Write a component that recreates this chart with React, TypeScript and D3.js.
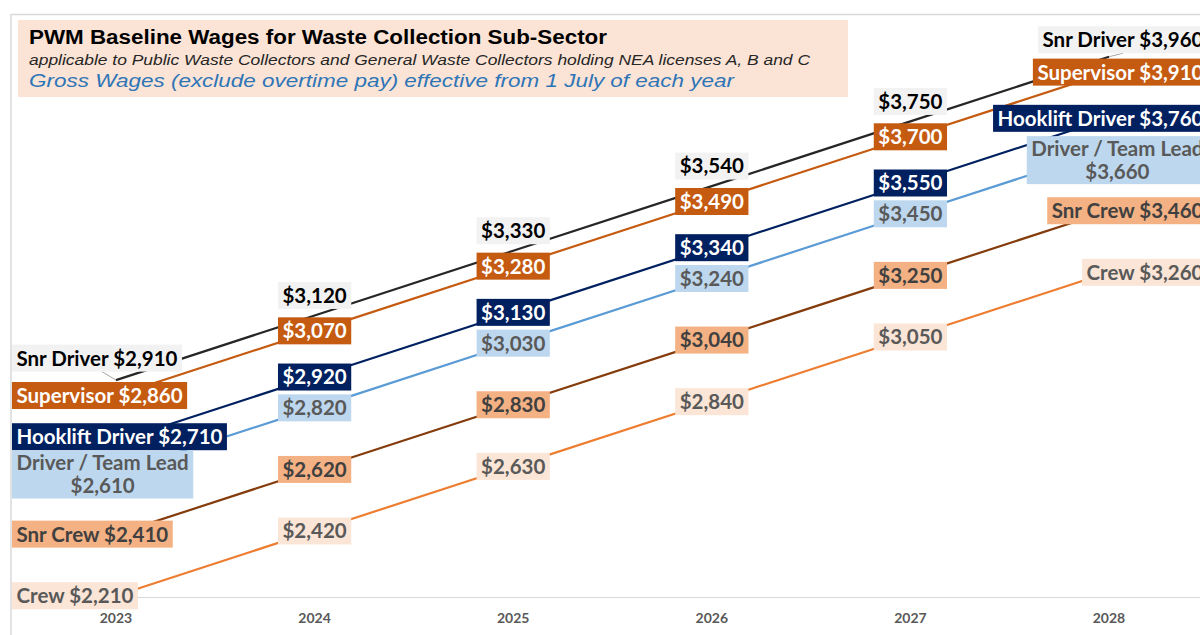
import React, { useEffect, useRef } from "react";
import * as d3 from "d3";

// ---- Data ----
const years = ["2023", "2024", "2025", "2026", "2027", "2028"];
const seriesNames = ["Snr Driver", "Supervisor", "Hooklift Driver", "Driver / Team Lead", "Snr Crew", "Crew"];
const snrDriver = [2910, 3120, 3330, 3540, 3750, 3960];
const supervisor = [2860, 3070, 3280, 3490, 3700, 3910];
const hookliftDriver = [2710, 2920, 3130, 3340, 3550, 3760];
const driverTeamLead = [2610, 2820, 3030, 3240, 3450, 3660];
const snrCrew = [2410, 2620, 2830, 3040, 3250, 3460];
const crew = [2210, 2420, 2630, 2840, 3050, 3260];
const seriesValues = [snrDriver, supervisor, hookliftDriver, driverTeamLead, snrCrew, crew];
const yDomain = [2200, 4000];

const titleLine1 = "PWM Baseline Wages for Waste Collection Sub-Sector";
const titleLine2 = "applicable to Public Waste Collectors and General Waste Collectors holding NEA licenses A, B and C";
const titleLine3 = "Gross Wages (exclude overtime pay) effective from 1 July of each year";

// ---- Styles ----
const seriesStyles = [
  { line: "#262626", fill: "#f2f2f2", text: "#000000", dy: -20, firstDy: -2, lastDy: 3, wrap: false, leader: true },
  { line: "#c55a11", fill: "#c55a11", text: "#ffffff", dy: 0, firstDy: 0, lastDy: 0, wrap: false, leader: false },
  { line: "#002060", fill: "#002060", text: "#ffffff", dy: 0, firstDy: -5, lastDy: 0, wrap: false, leader: false },
  { line: "#5b9bd5", fill: "#bdd7ee", text: "#595959", dy: 0, firstDy: 2, lastDy: 11, wrap: true, leader: false },
  { line: "#843c0c", fill: "#f4b183", text: "#404040", dy: 0, firstDy: 0, lastDy: 0, wrap: false, leader: false },
  { line: "#ed7d31", fill: "#fbe5d6", text: "#595959", dy: 0, firstDy: 0, lastDy: 0, wrap: false, leader: false },
];

const W = 1200;
const H = 635;
const LABEL_FONT = "Lato, 'Open Sans', sans-serif";
const LABEL_SIZE = 20.5;

export default function App() {
  const ref = useRef<SVGSVGElement>(null);

  useEffect(() => {
    const svg = d3.select(ref.current);
    svg.selectAll("*").remove();

    const x = d3.scalePoint<string>().domain(years).range([116, 1109]);
    const y = d3.scaleLinear().domain(yDomain).range([598.8, 44.4]);
    const fmt = d3.format("$,");

    // chart border
    svg.append("line").attr("x1", 11).attr("x2", W).attr("y1", 14.5).attr("y2", 14.5)
      .attr("stroke", "#d9d9d9").attr("stroke-width", 1.5);
    svg.append("line").attr("x1", 11).attr("x2", 11).attr("y1", 14).attr("y2", H)
      .attr("stroke", "#d9d9d9").attr("stroke-width", 1.5);

    // title box
    svg.append("rect").attr("x", 18).attr("y", 20).attr("width", 830).attr("height", 77).attr("fill", "#fbe4d6");
    svg.append("text").attr("x", 29).attr("y", 44).text(titleLine1)
      .attr("font-family", "'Liberation Sans', Arial, sans-serif").attr("font-weight", 700)
      .attr("font-size", 19.5).attr("fill", "#000")
      .attr("textLength", 578).attr("lengthAdjust", "spacingAndGlyphs");
    svg.append("text").attr("x", 29).attr("y", 64.5).text(titleLine2)
      .attr("font-family", "'Liberation Sans', Arial, sans-serif").attr("font-style", "italic")
      .attr("font-size", 14).attr("fill", "#262626")
      .attr("textLength", 781).attr("lengthAdjust", "spacingAndGlyphs");
    svg.append("text").attr("x", 29).attr("y", 86.5).text(titleLine3)
      .attr("font-family", "'Liberation Sans', Arial, sans-serif").attr("font-style", "italic")
      .attr("font-size", 18.5).attr("fill", "#2e75b6")
      .attr("textLength", 705).attr("lengthAdjust", "spacingAndGlyphs");

    // x axis
    svg.append("line").attr("x1", 11).attr("x2", W).attr("y1", 597.5).attr("y2", 597.5)
      .attr("stroke", "#d9d9d9").attr("stroke-width", 1);
    svg.append("g").selectAll("text").data(years).join("text")
      .attr("x", (d) => x(d) as number).attr("y", 623)
      .attr("text-anchor", "middle")
      .attr("font-family", LABEL_FONT).attr("font-weight", 700).attr("font-size", 14)
      .attr("fill", "#595959").text((d) => d);

    // lines
    const lineGen = d3.line<number>()
      .x((_, i) => x(years[i]) as number)
      .y((d) => y(d));
    const linesG = svg.append("g");
    seriesValues.forEach((vals, si) => {
      linesG.append("path").attr("d", lineGen(vals) as string)
        .attr("fill", "none").attr("stroke", seriesStyles[si].line).attr("stroke-width", 2.2);
    });

    // labels
    const labelsG = svg.append("g");
    const last = years.length - 1;
    seriesValues.forEach((vals, si) => {
      const st = seriesStyles[si];
      vals.forEach((v, j) => {
        const px = x(years[j]) as number;
        const py = y(v);
        const isEnd = j === 0 || j === last;
        let lines: string[];
        if (isEnd) {
          lines = st.wrap ? [seriesNames[si], fmt(v)] : [`${seriesNames[si]} ${fmt(v)}`];
        } else {
          lines = [fmt(v)];
        }
        const cy = py + st.dy + (j === last ? st.lastDy : 0) + (j === 0 ? st.firstDy : 0);
        const g = labelsG.append("g");
        const rect = g.append("rect").attr("fill", st.fill);
        const texts = lines.map((ln) =>
          g.append("text").text(ln)
            .attr("font-family", LABEL_FONT).attr("font-weight", 700)
            .attr("font-size", LABEL_SIZE).attr("fill", st.text)
            .attr("text-anchor", "middle")
        );
        const widths = texts.map((t) => (t.node() as SVGTextElement).getComputedTextLength());
        const bw = Math.max(...widths) + 9;
        const lineH = 23;
        const bh = lines.length === 1 ? 27 : 48;
        let bx: number;
        if (j === 0) bx = 12;
        else if (j === last) bx = 1208 - bw;
        else bx = px - bw / 2;
        const by = cy - bh / 2;
        rect.attr("x", bx).attr("y", by).attr("width", bw).attr("height", bh);
        texts.forEach((t, k) => {
          const off = (k - (lines.length - 1) / 2) * lineH;
          t.attr("x", bx + bw / 2).attr("y", cy + off + LABEL_SIZE * 0.36);
        });
        if (st.leader && isEnd) {
          const dir = j === 0 ? -1 : 1;
          labelsG.insert("line", ":first-child")
            .attr("x1", px).attr("y1", py)
            .attr("x2", px + dir * 14).attr("y2", by + bh)
            .attr("stroke", "#a6a6a6").attr("stroke-width", 1);
        }
      });
    });
  }, []);

  return (
    <svg
      ref={ref}
      width={W}
      height={H}
      style={{ position: "absolute", left: 0, top: 0, background: "#ffffff" }}
    />
  );
}
